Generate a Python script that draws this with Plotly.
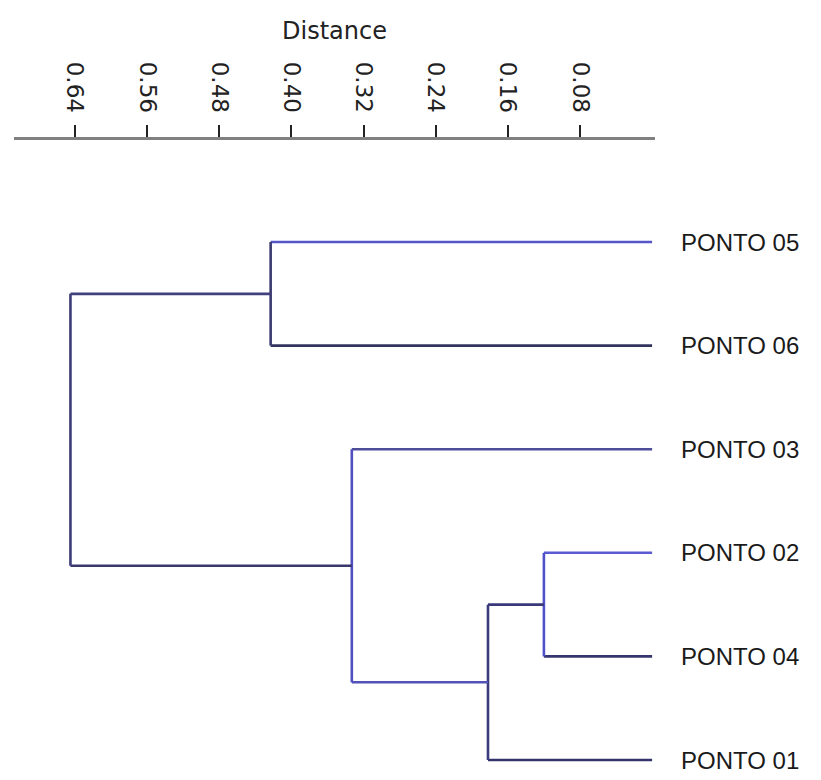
import plotly.graph_objects as go

# ---- data ----
leaf_labels = ["PONTO 05", "PONTO 06", "PONTO 03", "PONTO 02", "PONTO 04", "PONTO 01"]
# merges: children indices (leaves 0..5, clusters 6..) and merge distance
merge_left = [3, 6, 2, 0, 9]
merge_right = [4, 5, 7, 1, 8]
merge_height = [0.120, 0.182, 0.333, 0.423, 0.645]
tick_vals = [0.64, 0.56, 0.48, 0.40, 0.32, 0.24, 0.16, 0.08]
tick_text = ["0.64", "0.56", "0.48", "0.40", "0.32", "0.24", "0.16", "0.08"]

# ---- styles ----
upper_col = ["#5a5ad2", "#38387a", "#4d4d9a", "#5656c8", "#40407e"]
vert_col = ["#5050c8", "#3a3a7c", "#4f4fc0", "#3a3a70", "#3c3c78"]
lower_col = ["#36366e", "#34346c", "#5252b8", "#33335e", "#38386e"]

n = len(leaf_labels)
ypos = {i: float(n - 1 - i) for i in range(n)}
xpos = {i: 0.0 for i in range(n)}

fig = go.Figure()

def seg(x0, y0, x1, y1, c):
    fig.add_trace(go.Scatter(x=[x0, x1], y=[y0, y1], mode="lines",
                             line=dict(color=c, width=2.6), hoverinfo="skip",
                             showlegend=False))

for k, (a, b, h) in enumerate(zip(merge_left, merge_right, merge_height)):
    ya, yb = ypos[a], ypos[b]
    top, bot = (a, b) if ya > yb else (b, a)
    seg(xpos[top], ypos[top], h, ypos[top], upper_col[k])
    seg(xpos[bot], ypos[bot], h, ypos[bot], lower_col[k])
    seg(h, ypos[top], h, ypos[bot], vert_col[k])
    cid = n + k
    ypos[cid] = (ya + yb) / 2
    xpos[cid] = h

for i, lab in enumerate(leaf_labels):
    fig.add_annotation(x=0, y=ypos[i], text=lab, showarrow=False,
                       xanchor="left", yanchor="middle", xshift=27,
                       font=dict(family="Liberation Sans", size=24, color="#1a1a1a"))

fig.update_layout(
    width=821, height=780,
    margin=dict(l=14, r=166, t=140, b=0),
    paper_bgcolor="white", plot_bgcolor="white",
    xaxis=dict(side="top", range=[0.7076, -0.0032], tickmode="array",
               tickvals=tick_vals, ticktext=tick_text, tickangle=90,
               ticks="outside", ticklen=12, tickwidth=2, tickcolor="#222222",
               showline=True, linecolor="#808080", linewidth=3,
               showgrid=False, zeroline=False, ticklabelstandoff=4,
               tickfont=dict(family="DejaVu Sans", size=23, color="#222222"),
               title=dict(text="Distance", standoff=16,
                          font=dict(family="DejaVu Sans", size=24, color="#222222"))),
    yaxis=dict(range=[-0.193, 5.985], visible=False, showgrid=False, zeroline=False),
)

fig.write_html("out.html")
